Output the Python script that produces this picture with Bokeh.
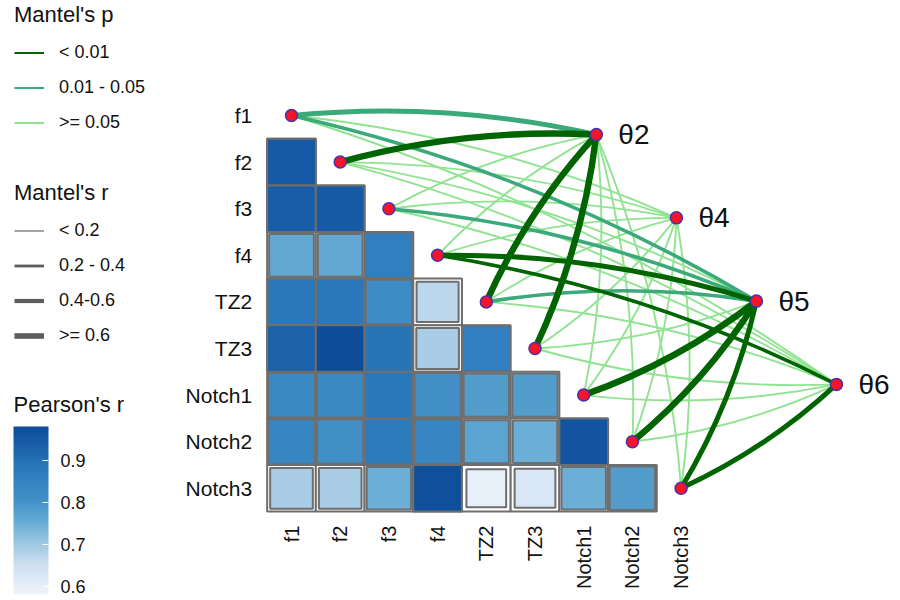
import numpy as np
from bokeh.plotting import figure
from bokeh.models import (Range1d, ColumnDataSource, LinearColorMapper, ColorBar,
                          FixedTicker, Legend, LegendItem, Label)
from bokeh.transform import transform
from bokeh.core.properties import value
from bokeh.embed import file_html
from bokeh.resources import INLINE

# ---------------- data ----------------
spec_names = ["f1", "f2", "f3", "f4", "TZ2", "TZ3", "Notch1", "Notch2", "Notch3"]
env_names = ["θ2", "θ4", "θ5", "θ6"]

# Pearson's r, lower triangle: row i holds columns 0..i-1
pearson_rows = [
    [],
    [0.95],
    [0.94, 0.95],
    [0.76, 0.76, 0.86],
    [0.88, 0.88, 0.82, 0.67],
    [0.93, 0.98, 0.89, 0.69, 0.86],
    [0.83, 0.83, 0.88, 0.81, 0.78, 0.78],
    [0.84, 0.81, 0.87, 0.84, 0.77, 0.75, 0.96],
    [0.69, 0.69, 0.75, 0.97, 0.60, 0.63, 0.75, 0.78],
]

# Mantel tests: one row per environmental factor, one column per species variable
mantel_r = [
    [0.52, 0.65, 0.12, 0.10, 0.63, 0.68, 0.08, 0.10, 0.06],   # θ2
    [0.10, 0.12, 0.09, 0.11, 0.13, 0.08, 0.07, 0.06, 0.05],   # θ4
    [0.30, 0.11, 0.33, 0.50, 0.28, 0.12, 0.70, 0.64, 0.45],   # θ5
    [0.08, 0.09, 0.10, 0.36, 0.11, 0.12, 0.13, 0.14, 0.42],   # θ6
]
mantel_p = [
    [0.020, 0.001, 0.210, 0.180, 0.001, 0.001, 0.350, 0.280, 0.420],
    [0.220, 0.190, 0.310, 0.250, 0.160, 0.330, 0.410, 0.460, 0.520],
    [0.030, 0.240, 0.020, 0.002, 0.040, 0.190, 0.001, 0.001, 0.004],
    [0.370, 0.330, 0.290, 0.006, 0.210, 0.180, 0.120, 0.090, 0.005],
]

p_breaks = [0.01, 0.05]
p_labels = ["< 0.01", "0.01 - 0.05", ">= 0.05"]
r_breaks = [0.2, 0.4, 0.6]
r_labels = ["< 0.2", "0.2 - 0.4", "0.4-0.6", ">= 0.6"]
pearson_ticks = [0.6, 0.7, 0.8, 0.9]

# ---------------- style ----------------
FONT = "Liberation Sans"
P_COLORS = ["#006400", "#3aaa7a", "#90e390"]
R_WIDTHS = [1.9, 3.6, 5.0, 6.4]
R_LEGEND_COLOR = "#5c5c5c"
GRID_COLOR = "#6e6e6e"
TEXT_COLOR = "#111111"
BLUE_STOPS = [(0.58, "#f0f4fb"), (0.65, "#cfe0f2"), (0.70, "#9fc8e3"), (0.75, "#6aaed6"),
              (0.80, "#4592c8"), (0.85, "#3483c0"), (0.90, "#2470b5"), (0.95, "#1659a5"),
              (0.98, "#0c4c98")]
C_LOW, C_HIGH = 0.58, 0.98
CURVE = 0.08

W, H = 896, 598
SX, SY = 48.7, 46.6                     # pixels per cell
x_start = -291 / SX
y_end = 115 / SY
x_range = Range1d(x_start, x_start + W / SX)
y_range = Range1d(y_end - H / SY, y_end)


def hex2rgb(h):
    return np.array([int(h[i:i + 2], 16) for i in (1, 3, 5)], dtype=float)


vals = np.linspace(C_LOW, C_HIGH, 256)
sv = np.array([s[0] for s in BLUE_STOPS])
sc = np.array([hex2rgb(s[1]) for s in BLUE_STOPS])
palette = []
for v in vals:
    rgb = [np.interp(v, sv, sc[:, k]) for k in range(3)]
    palette.append("#%02x%02x%02x" % tuple(int(round(c)) for c in rgb))
mapper = LinearColorMapper(palette=palette, low=C_LOW, high=C_HIGH)

p = figure(width=W, height=H, x_range=x_range, y_range=y_range,
           output_backend="svg", toolbar_location=None, min_border=0,
           x_axis_type=None, y_axis_type=None, outline_line_color=None)
p.background_fill_color = "white"

# ---------------- heatmap ----------------
cx, cy, cr = [], [], []
for i, row in enumerate(pearson_rows):
    for j, r in enumerate(row):
        cx.append(j)
        cy.append(-i)
        cr.append(r)
cr = np.array(cr)
cell_src = ColumnDataSource(dict(x=cx, y=cy, r=cr,
                                 s=np.minimum(1.0, np.sqrt(cr / 0.9))))
p.rect(x="x", y="y", width=1, height=1, source=cell_src,
       fill_color="white", line_color=GRID_COLOR, line_width=2)
p.rect(x="x", y="y", width="s", height="s", source=cell_src,
       fill_color=transform("r", mapper), line_color=GRID_COLOR, line_width=2)

# ---------------- nodes ----------------
n_spec = len(spec_names)
node_x = np.arange(n_spec, dtype=float)
node_y = -np.arange(n_spec, dtype=float)
env_x = np.linspace(6.26, 11.19, len(env_names))
env_y = np.linspace(-0.41, -5.77, len(env_names))
mid_index = (n_spec - 1) / 2

# ---------------- links ----------------
lk = dict(x0=[], y0=[], x1=[], y1=[], cx=[], cy=[], color=[], lw=[], pv=[], rv=[])
for k in range(len(env_names)):
    for i in range(n_spec):
        r = mantel_r[k][i]
        pv = mantel_p[k][i]
        pc = int(np.searchsorted(p_breaks, pv, side="right"))
        rc = int(np.searchsorted(r_breaks, r, side="right"))
        ax, ay = node_x[i] * SX, node_y[i] * SY
        bx, by = env_x[k] * SX, env_y[k] * SY
        dx, dy = bx - ax, by - ay
        L = np.hypot(dx, dy)
        side = 1.0 if i <= mid_index else -1.0
        nx, ny = side * -dy / L, side * dx / L
        mx, my = (ax + bx) / 2 + CURVE * L * nx, (ay + by) / 2 + CURVE * L * ny
        lk["x0"].append(node_x[i]); lk["y0"].append(node_y[i])
        lk["x1"].append(env_x[k]); lk["y1"].append(env_y[k])
        lk["cx"].append(mx / SX); lk["cy"].append(my / SY)
        lk["color"].append(P_COLORS[pc]); lk["lw"].append(R_WIDTHS[rc])
        lk["pv"].append(pv); lk["rv"].append(r)

order = sorted(range(len(lk["pv"])), key=lambda t: (-lk["pv"][t], lk["rv"][t]))
lk = {key: [v[t] for t in order] for key, v in lk.items()}
p.quadratic(x0="x0", y0="y0", x1="x1", y1="y1", cx="cx", cy="cy",
            line_color="color", line_width="lw", source=ColumnDataSource(lk))

p.scatter(x=list(node_x) + list(env_x), y=list(node_y) + list(env_y), size=12,
          fill_color="#f5142a", line_color="#4a32a8", line_width=1.5)

# ---------------- labels ----------------
p.text(x=[-0.5] * n_spec, y=list(node_y), text=spec_names, x_offset=-15,
       text_align="right", text_baseline="middle",
       text_font=value(FONT), text_font_size=value("21px"), text_color=TEXT_COLOR)
p.text(x=list(node_x), y=[-(n_spec - 1) - 0.5] * n_spec, text=spec_names,
       angle=np.pi / 2, y_offset=14, text_align="right", text_baseline="middle",
       text_font=value(FONT), text_font_size=value("20px"), text_color=TEXT_COLOR)
p.text(x=list(env_x), y=list(env_y), text=env_names, x_offset=22,
       text_align="left", text_baseline="middle",
       text_font=value(FONT), text_font_size=value("28px"), text_color=TEXT_COLOR)

# ---------------- legends ----------------
far_x = [x_start - 20, x_start - 19]
far_y = [y_end + 20, y_end + 20]
p_items = []
for lab, col in zip(p_labels, P_COLORS):
    rr = p.line(x=far_x, y=far_y, line_color=col, line_width=2)
    p_items.append(LegendItem(label=lab, renderers=[rr]))
r_items = []
for lab, w in zip(r_labels, R_WIDTHS):
    rr = p.line(x=far_x, y=far_y, line_color=R_LEGEND_COLOR, line_width=w - 0.8)
    r_items.append(LegendItem(label=lab, renderers=[rr]))


def make_legend(items, title, loc):
    return Legend(items=items, title=title, location=loc,
                  title_text_font=FONT, title_text_font_size="22px",
                  title_text_font_style="normal", title_text_color=TEXT_COLOR,
                  title_standoff=14,
                  label_text_font=FONT, label_text_font_size="18px",
                  label_text_color=TEXT_COLOR,
                  glyph_width=30, glyph_height=21, label_height=21,
                  label_standoff=15, spacing=14, padding=0, margin=0,
                  border_line_color=None, background_fill_alpha=0)


p.add_layout(make_legend(p_items, "Mantel's p", (14, H - 133)))
p.add_layout(make_legend(r_items, "Mantel's r", (14, H - 346)))

cb = ColorBar(color_mapper=mapper, location=(13, 4), width=35, height=168,
              ticker=FixedTicker(ticks=pearson_ticks),
              major_label_text_font=FONT, major_label_text_font_size="18px",
              major_label_text_color=TEXT_COLOR,
              label_standoff=12, major_tick_line_color="white",
              major_tick_in=6, major_tick_out=0, minor_tick_line_color=None,
              bar_line_color=None, padding=0, margin=0,
              background_fill_alpha=0, border_line_color=None)
p.add_layout(cb)
p.add_layout(Label(x=x_start + 13 / SX, y=y_end - 404 / SY, text="Pearson's r",
                   text_font=FONT, text_font_size="22px", text_color=TEXT_COLOR,
                   text_baseline="middle", text_align="left"))

open("out.html", "w").write(file_html(p, INLINE))
